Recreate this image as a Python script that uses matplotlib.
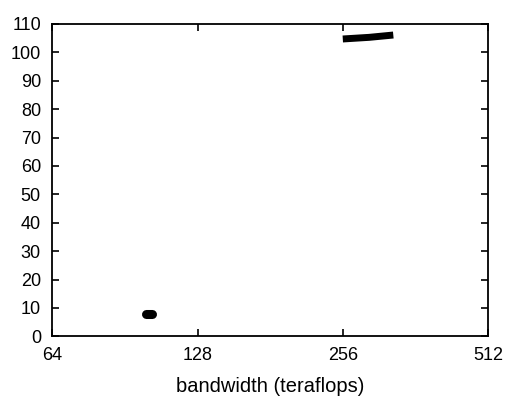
import matplotlib
matplotlib.use("Agg")
import matplotlib.pyplot as plt
from matplotlib.ticker import FixedLocator, FixedFormatter, NullLocator

plt.rcParams['font.family'] = ['Liberation Sans', 'DejaVu Sans']

# data
low_x = [100, 103]
low_y = [8, 8]
high_x = [260, 290, 320]
high_y = [104.8, 105.3, 106.0]
x_ticks = [64, 128, 256, 512]
x_tick_labels = ["64", "128", "256", "512"]
y_ticks = list(range(0, 111, 10))

fig = plt.figure(figsize=(5.06, 3.98), dpi=100)
ax = fig.add_axes([0.1028, 0.155, 0.8626, 0.7847])
ax.plot(low_x, low_y, color='black', lw=6.5, solid_capstyle='round')
ax.plot(high_x, high_y, color='black', lw=5, solid_capstyle='projecting')

ax.set_xscale('log', base=2)
ax.set_xlim(64, 512)
ax.set_ylim(0, 110)
ax.xaxis.set_major_locator(FixedLocator(x_ticks))
ax.xaxis.set_major_formatter(FixedFormatter(x_tick_labels))
ax.xaxis.set_minor_locator(NullLocator())
ax.set_yticks(y_ticks)
ax.tick_params(direction='in', length=5, width=1.2, top=True, right=True,
               labelsize=13, colors='black')
ax.tick_params(axis='x', pad=8)
ax.tick_params(axis='y', pad=8)
for s in ax.spines.values():
    s.set_linewidth(1.3)
ax.set_xlabel("bandwidth (teraflops)", fontsize=14.5, labelpad=9)
fig.savefig("out.png", dpi=100)
